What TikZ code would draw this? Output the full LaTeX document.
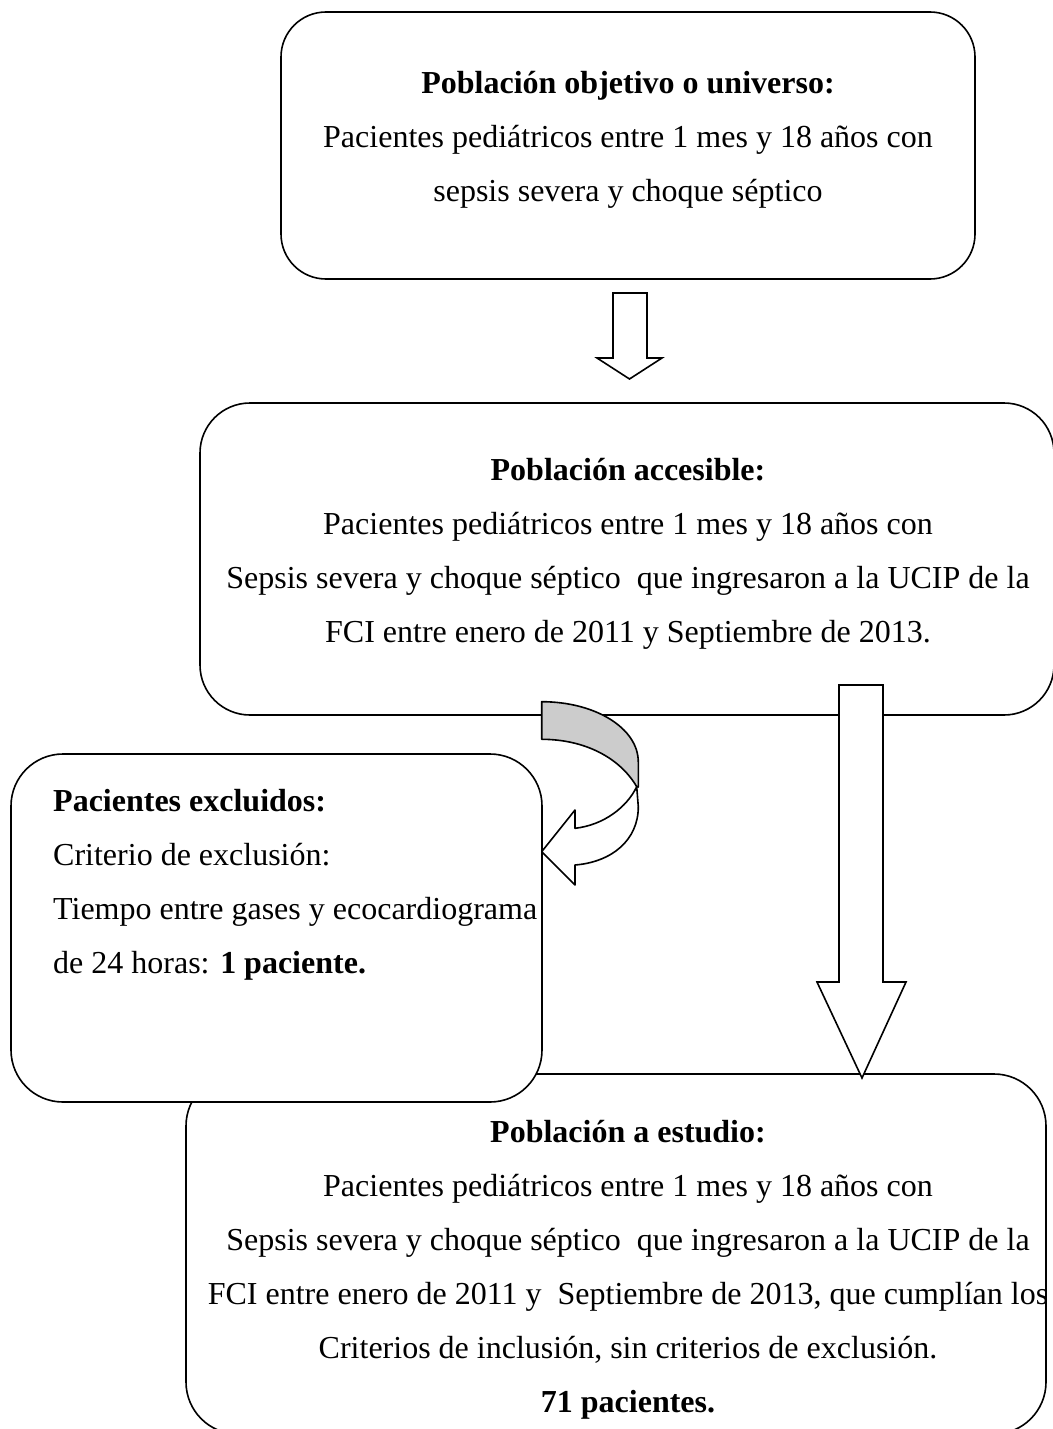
\documentclass[tikz,border=0pt]{standalone}
\usepackage{fontspec}
\setmainfont{Liberation Serif}
\tikzset{
  box/.style={draw=black, line width=1.6pt, fill=white, rounded corners=#1, inner sep=0pt},
  box/.default=52pt,
  txt/.style={inner sep=0pt, anchor=north, align=center, font=\fontsize{32}{54}\selectfont},
  txtl/.style={inner sep=0pt, anchor=north west, align=left, font=\fontsize{32}{54}\selectfont},
  blockarrow/.style={draw=black, line width=1.6pt, fill=white, line join=miter},
  grayband/.style={draw=black, line width=1.6pt, fill=black!20, line join=round},
}
\newcommand{\firstline}{\rule{0pt}{24pt}}
\begin{document}
\begin{tikzpicture}[x=1pt, y=-1pt]
\useasboundingbox (0,0) rectangle (1052,1429);

% box 1
\node[box=45pt, minimum width=694pt, minimum height=267pt] (b1) at (628,145.5) {};
% arrow 1
\coordinate (a1top) at (630,293);
\coordinate (a1tip) at (629.5,379);
\draw[blockarrow] (a1top) ++(-17,0) -- ++(34,0) -- ++(0,65) -- ++(15,0) -- (a1tip) -- (597,358) -- (613,358) -- cycle;

% box 2
\node[box=50pt, minimum width=854pt, minimum height=312pt] (b2) at (627,559) {};

% box 4
\node[box=52pt, minimum width=860pt, minimum height=360pt] (b4) at (616,1254) {};

% arrow 2
\coordinate (a2top) at (861,685);
\coordinate (a2tip) at (862,1078);
\draw[blockarrow] (a2top) ++(-22,0) -- ++(44,0) -- (883,982) -- (906,982) -- (a2tip) -- (817,982) -- (839,982) -- cycle;

% box 3
\node[box=52pt, minimum width=531pt, minimum height=348pt] (b3) at (276.5,928) {};

% curved arrow
\coordinate (c1) at (541.7,701.7);
\coordinate (c2) at (541.7,739.3);
\coordinate (ctip) at (541.7,851.7);
\draw[blockarrow, fill=white, line join=round] (636.7,786.7) -- (638.3,806.7) .. controls (638.3,840) and (612,862) .. (575,865) -- (575,885) -- (ctip) -- (575,810) -- (575,828.3) .. controls (604,825) and (627,807) .. (636.7,786.7);
\draw[grayband] (c1) .. controls (595,701.7) and (638.3,728) .. (638.3,762) -- (638.3,787) -- (636.7,786.7) .. controls (620,758) and (585,739.3) .. (c2) -- cycle;

% texts
\node[txt] (t1) at (628,69) {\firstline\textbf{Población objetivo o universo:}\\Pacientes pediátricos entre 1 mes y 18 años con\\sepsis severa y choque séptico};
\node[txt] (t2) at (628,456) {\firstline\textbf{Población accesible:}\\Pacientes pediátricos entre 1 mes y 18 años con\\Sepsis severa y choque séptico\ \ que ingresaron a la UCIP de la\\FCI entre enero de 2011 y Septiembre de 2013.};
\node[txtl] (t3) at (53,787) {\firstline\textbf{Pacientes excluidos:}\\Criterio de exclusión:\\Tiempo entre gases y ecocardiograma\\de 24 horas: \textbf{1 paciente.}};
\node[txt] (t4) at (628,1118) {\firstline\textbf{Población a estudio:}\\Pacientes pediátricos entre 1 mes y 18 años con\\Sepsis severa y choque séptico\ \ que ingresaron a la UCIP de la\\FCI entre enero de 2011 y\ \ Septiembre de 2013, que cumplían los\\Criterios de inclusión, sin criterios de exclusión.\\\textbf{71 pacientes.}};
\end{tikzpicture}
\end{document}
